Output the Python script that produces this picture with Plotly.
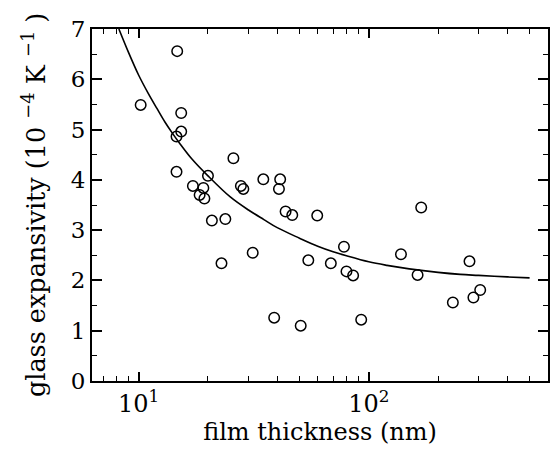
import plotly.graph_objects as go

# measured data points (film thickness nm, glass expansivity 1e-4 /K)
thickness = [10.2, 14.7, 15.3, 15.3, 14.6, 14.6, 17.2, 19.1, 18.4, 19.3, 20.0,
             25.8, 27.8, 28.5, 34.8, 41.2, 40.7, 43.5, 46.5, 59.7, 20.8, 23.8,
             22.9, 31.3, 38.8, 50.6, 54.6, 68.4, 78.0, 80.0, 85.5, 92.7, 138,
             163, 169, 232, 274, 285, 305]
expansivity = [5.49, 6.56, 5.33, 4.96, 4.86, 4.16, 3.88, 3.84, 3.70, 3.63, 4.08,
               4.43, 3.88, 3.82, 4.01, 4.01, 3.82, 3.37, 3.30, 3.29, 3.19, 3.22,
               2.34, 2.55, 1.26, 1.10, 2.40, 2.34, 2.67, 2.18, 2.10, 1.22, 2.52,
               2.11, 3.45, 1.56, 2.38, 1.66, 1.81]

# fitted curve
curve_x = [8.2, 9, 10, 11, 12, 13, 14, 15, 17, 20, 25, 30, 35, 40, 50, 60, 70,
           80, 100, 120, 150, 200, 250, 300, 400, 500]
curve_y = [7.0, 6.55, 6.08, 5.72, 5.42, 5.15, 4.93, 4.74, 4.42, 4.08, 3.66, 3.40,
           3.21, 3.05, 2.84, 2.68, 2.57, 2.49, 2.37, 2.30, 2.23, 2.16, 2.12, 2.10,
           2.07, 2.05]

x_major = [10, 100]
x_major_text = ["10<sup>1</sup>", "10<sup>2</sup>"]
x_minor = [7, 8, 9, 20, 30, 40, 50, 60, 70, 80, 90, 200, 300, 400, 500]

y_title = "glass expansivity (10\u00a0<sup>−4</sup>\u00a0K\u00a0<sup>−1</sup>\u00a0)"
x_title = "film thickness (nm)"

FONT = "DejaVu Serif"

fig = go.Figure()
fig.add_trace(go.Scatter(x=curve_x, y=curve_y, mode="lines", line_shape="spline",
                         line=dict(color="black", width=1.6), hoverinfo="skip"))
fig.add_trace(go.Scatter(x=thickness, y=expansivity, mode="markers",
                         marker=dict(symbol="circle-open", size=10.5,
                                     color="black", line=dict(width=1.5))))

fig.update_layout(
    width=551, height=458,
    margin=dict(l=92, r=1, t=29, b=77),
    paper_bgcolor="white", plot_bgcolor="white",
    showlegend=False,
    font=dict(family=FONT, size=23, color="black"),
)
fig.add_annotation(
    text=y_title, xref="paper", yref="paper",
    x=-0.127, y=0.5, xanchor="center", yanchor="middle",
    textangle=-90, showarrow=False,
    font=dict(family=FONT, size=25.5, color="black"),
)
fig.update_xaxes(
    type="log", range=[0.797, 2.779],
    tickmode="array", tickvals=x_major, ticktext=x_major_text,
    ticks="inside", ticklen=9, tickwidth=1.5, tickcolor="black",
    minor=dict(tickmode="array", tickvals=x_minor, ticks="inside", ticklen=5,
               tickwidth=1.2, tickcolor="black"),
    showline=True, linecolor="black", linewidth=1.8, mirror="ticks",
    showgrid=False, zeroline=False,
    tickfont=dict(family=FONT, size=24),
    title=dict(text=x_title, font=dict(family=FONT, size=24), standoff=2),
)
fig.update_yaxes(
    range=[0, 7], dtick=1, tick0=0,
    ticks="inside", ticklen=10, tickwidth=1.5, tickcolor="black",
    minor=dict(dtick=0.5, ticks="inside", ticklen=5, tickwidth=1.2, tickcolor="black"),
    showline=True, linecolor="black", linewidth=1.8, mirror="ticks",
    showgrid=False, zeroline=False,
    tickfont=dict(family=FONT, size=23),
)

fig.write_html("out.html", config={"responsive": False, "displayModeBar": False},
               post_script="document.body.style.margin='0px';")
